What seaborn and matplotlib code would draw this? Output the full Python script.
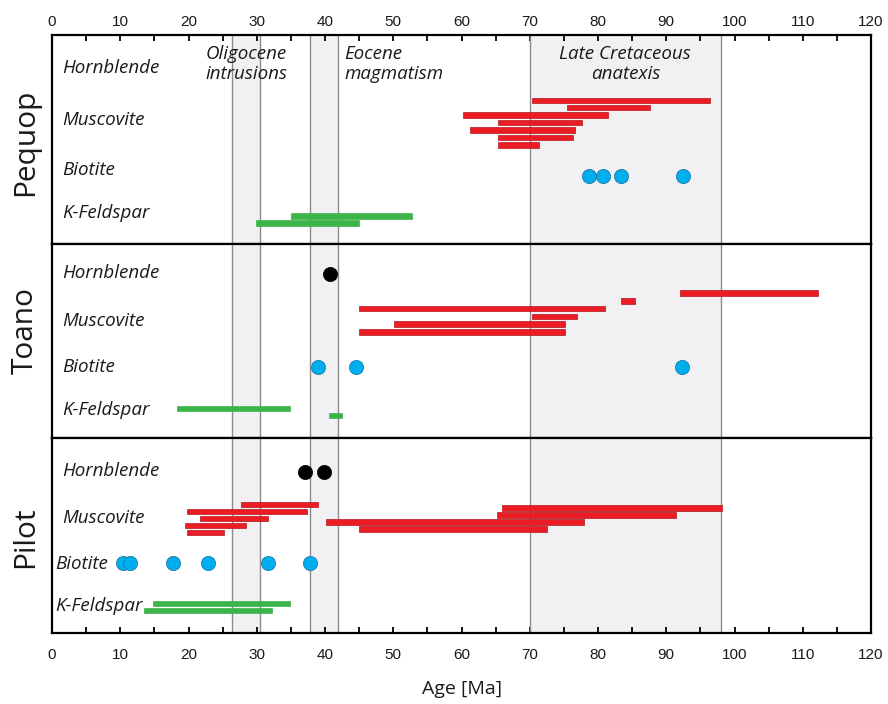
import matplotlib
matplotlib.use("Agg")
import matplotlib.pyplot as plt
from matplotlib.ticker import MultipleLocator
import numpy as np
import pandas as pd
import seaborn as sns

# ---------------------------------------------------------------- data (Ma)
minerals = ["Hornblende", "Muscovite", "Biotite", "K-Feldspar"]
panels = ["Pequop", "Toano", "Pilot"]

# geologic event windows
band_names = ["Oligocene\nintrusions", "Eocene\nmagmatism", "Late Cretaceous\nanatexis"]
band_lo = [26.4, 37.8, 70.0]
band_hi = [30.5, 41.9, 98.0]

# Pequop
pequop_musc_start = [70.3, 75.4, 60.2, 65.3, 61.3, 65.3, 65.3]
pequop_musc_end = [96.4, 87.6, 81.5, 77.7, 76.6, 76.3, 71.4]
pequop_bt = [78.7, 80.7, 83.4, 92.4]
pequop_kfs_start = [35.0, 29.9]
pequop_kfs_end = [52.8, 45.0]

# Toano
toano_hbl = [40.7]
toano_musc_start = [92.0, 83.4, 45.0, 70.3, 50.1, 45.0]
toano_musc_end = [112.2, 85.4, 81.0, 76.9, 75.1, 75.1]
toano_bt = [39.0, 44.6, 92.3]
toano_kfs_start = [18.3, 40.6]
toano_kfs_end = [34.8, 42.5]

# Pilot
pilot_hbl = [37.0, 39.9]
pilot_musc_start = [27.7, 65.9, 19.8, 65.2, 21.7, 40.2, 19.5, 45.0, 19.8]
pilot_musc_end = [39.0, 98.2, 37.4, 91.5, 31.6, 77.9, 28.4, 72.5, 25.2]
pilot_bt = [10.45, 11.4, 17.7, 22.9, 31.6, 37.85]
pilot_kfs_start = [14.75, 13.5]
pilot_kfs_end = [34.8, 32.3]

bars = {
    ("Pequop", "Muscovite"): (pequop_musc_start, pequop_musc_end),
    ("Pequop", "K-Feldspar"): (pequop_kfs_start, pequop_kfs_end),
    ("Toano", "Muscovite"): (toano_musc_start, toano_musc_end),
    ("Toano", "K-Feldspar"): (toano_kfs_start, toano_kfs_end),
    ("Pilot", "Muscovite"): (pilot_musc_start, pilot_musc_end),
    ("Pilot", "K-Feldspar"): (pilot_kfs_start, pilot_kfs_end),
}
dots = {
    ("Pequop", "Biotite"): pequop_bt,
    ("Toano", "Hornblende"): toano_hbl,
    ("Toano", "Biotite"): toano_bt,
    ("Pilot", "Hornblende"): pilot_hbl,
    ("Pilot", "Biotite"): pilot_bt,
}

# ---------------------------------------------------------------- layout (pixels)
W, H = 888, 704
X0, X1 = 52, 871
panel_px = {"Pequop": (35, 244), "Toano": (244, 438), "Pilot": (438, 633)}
# row centres for marks / labels, measured from each panel's top edge
mark_y = {
    "Pequop": {"Hornblende": 33, "Muscovite": 87.5, "Biotite": 141, "K-Feldspar": 184.5},
    "Toano": {"Hornblende": 30, "Muscovite": 68.5, "Biotite": 123, "K-Feldspar": 168},
    "Pilot": {"Hornblende": 34, "Muscovite": 80.3, "Biotite": 125, "K-Feldspar": 168.8},
}
label_y = {
    "Pequop": {"Hornblende": 33, "Muscovite": 85, "Biotite": 135, "K-Feldspar": 178},
    "Toano": {"Hornblende": 29, "Muscovite": 77, "Biotite": 123, "K-Feldspar": 166},
    "Pilot": {"Hornblende": 33, "Muscovite": 80, "Biotite": 126, "K-Feldspar": 168},
}
lane_step = {
    ("Pequop", "Muscovite"): 7.4, ("Pequop", "K-Feldspar"): 7.0,
    ("Toano", "Muscovite"): 7.8, ("Toano", "K-Feldspar"): 7.0,
    ("Pilot", "Muscovite"): 3.5, ("Pilot", "K-Feldspar"): 7.0,
}
panel_label_y = {"Pequop": 142, "Toano": 331, "Pilot": 537}

bar_color = {"Muscovite": ("#ec1c24", "#b3161c"), "K-Feldspar": ("#3db449", "#3db449")}
dot_color = {"Biotite": ("#00aeef", "#1b6e99"), "Hornblende": ("#000000", "#000000")}

sns.set_theme(style="white")
plt.rcParams["font.family"] = ["Open Sans", "DejaVu Sans"]

fig = plt.figure(figsize=(W / 100, H / 100), dpi=100)

axes = {}
for name in panels:
    top, bottom = panel_px[name]
    ax = fig.add_axes([X0 / W, 1 - bottom / H, (X1 - X0) / W, (bottom - top) / H])
    axes[name] = ax
    ax.set_xlim(0, 120)
    ax.set_ylim(bottom - top, 0)
    ax.set_facecolor("white")

    # shaded event windows
    for lo, hi in zip(band_lo, band_hi):
        ax.axvspan(lo, hi, color="#f1f1f3", lw=0, zorder=0)
        for v in (lo, hi):
            ax.axvline(v, color="#8c8c8c", lw=1.0, zorder=1)

    # age ranges
    for (pn, mineral), (starts, ends) in bars.items():
        if pn != name:
            continue
        starts = np.asarray(starts)
        ends = np.asarray(ends)
        n = len(starts)
        step = lane_step[(pn, mineral)]
        ys = mark_y[pn][mineral] + (np.arange(n) - (n - 1) / 2) * step
        fc, ec = bar_color[mineral]
        ax.barh(ys, ends - starts, left=starts, height=5.6, color=fc,
                edgecolor=ec, linewidth=0.5, zorder=3)

    # single-age points
    for (pn, mineral), ages in dots.items():
        if pn != name:
            continue
        df = pd.DataFrame({"age": ages, "y": mark_y[pn][mineral]})
        fc, ec = dot_color[mineral]
        sns.scatterplot(data=df, x="age", y="y", ax=ax, color=fc, edgecolor=ec,
                        linewidth=0.5, s=105, legend=False, zorder=4)

    # mineral labels
    for m in minerals:
        xpix = 55 if (name == "Pilot" and m in ("Biotite", "K-Feldspar")) else 62
        ax.text((xpix - X0) / (X1 - X0) * 120, label_y[name][m], m,
                fontsize=13.5, style="italic", ha="left", va="center",
                color="#1a1a1a", zorder=5)

    ax.set_xlabel("")
    ax.set_ylabel("")
    ax.set_yticks([])
    ax.xaxis.set_major_locator(MultipleLocator(10))
    ax.xaxis.set_minor_locator(MultipleLocator(5))
    for sp in ax.spines.values():
        sp.set_color("black")
        sp.set_linewidth(1.6)
        sp.set_visible(True)
    ax.tick_params(axis="x", which="both", bottom=False, top=False,
                   labelbottom=False, labeltop=False)

# outer age axes
top_ax = axes["Pequop"]
top_ax.tick_params(axis="x", which="both", top=True, labeltop=True, direction="in",
                   length=4.5, width=1.3, color="black", pad=4)
bot_ax = axes["Pilot"]
bot_ax.tick_params(axis="x", which="both", bottom=True, labelbottom=True, direction="in",
                   length=4.5, width=1.3, color="black", pad=11)
for ax in (top_ax, bot_ax):
    for lab in ax.get_xticklabels():
        lab.set_fontfamily(["Liberation Sans", "DejaVu Sans"])
        lab.set_fontsize(11)
        lab.set_color("#1a1a1a")

# event window titles
for nm, lo, hi in zip(band_names, band_lo, band_hi):
    if nm.startswith("Eocene"):
        top_ax.text(hi + 0.9, 29, nm, ha="left", va="center", fontsize=13.5,
                    style="italic", linespacing=1.1, color="#1a1a1a", zorder=5)
    else:
        top_ax.text((lo + hi) / 2, 29, nm, ha="center", va="center", fontsize=13.5,
                    style="italic", linespacing=1.1, color="#1a1a1a", zorder=5)

# complex names
for name in panels:
    fig.text(33 / W, 1 - panel_label_y[name] / H, name, rotation=90,
             rotation_mode="anchor", ha="center", va="baseline",
             fontsize=21.5, color="#1a1a1a")

fig.text(462 / W, 1 - 689 / H, "Age [Ma]", ha="center", va="center",
         fontsize=14, color="#1a1a1a")

fig.savefig("out.png", dpi=100)
